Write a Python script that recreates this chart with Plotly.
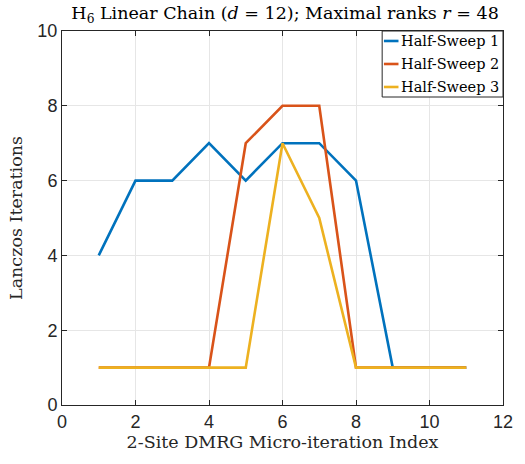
import plotly.graph_objects as go

x = [1, 2, 3, 4, 5, 6, 7, 8, 9, 10, 11]
sweep1 = [4, 6, 6, 7, 6, 7, 7, 6, 1, 1, 1]
sweep2 = [1, 1, 1, 1, 7, 8, 8, 1, 1, 1, 1]
sweep3 = [1, 1, 1, 1, 1, 7, 5, 1, 1, 1, 1]
names = ["Half-Sweep 1", "Half-Sweep 2", "Half-Sweep 3"]
colors = ["#0072BD", "#D95319", "#EDB120"]

serif = "DejaVu Serif"
sans = "Liberation Sans"

fig = go.Figure()
for ys, n, c in zip([sweep1, sweep2, sweep3], names, colors):
    fig.add_trace(go.Scatter(x=x, y=ys, mode="lines", name=n, showlegend=False,
                             line=dict(color=c, width=2.6)))

# custom legend (paper coordinates relative to plot area)
fig.add_shape(type="rect", xref="paper", yref="paper", x0=0.726, x1=1.0, y0=0.8235, y1=1.0,
              line=dict(color="#262626", width=1), fillcolor="white", layer="above")
row_y = [0.9733, 0.9118, 0.8503]
for n, c, yy in zip(names, colors, row_y):
    fig.add_shape(type="line", xref="paper", yref="paper", x0=0.730, x1=0.763, y0=yy, y1=yy,
                  line=dict(color=c, width=2.6), layer="above")
    fig.add_annotation(xref="paper", yref="paper", x=0.764, y=yy, text=n, showarrow=False,
                       xanchor="left", yanchor="middle",
                       font=dict(family=serif, size=14.5, color="black"))

axis_common = dict(showline=True, linecolor="#262626", linewidth=1, mirror="ticks",
                   ticks="inside", ticklen=5, tickcolor="#262626",
                   showgrid=True, gridcolor="#e6e6e6", gridwidth=1, zeroline=False,
                   tickfont=dict(family=sans, size=18, color="#262626"))

fig.update_layout(
    width=525, height=464,
    margin=dict(l=62, r=17, t=31, b=59),
    plot_bgcolor="white", paper_bgcolor="white",
    title=dict(text="H<sub>6</sub> Linear Chain (<i>d</i> = 12); Maximal ranks <i>r</i> = 48",
               x=0.543, xanchor="center", y=0.972, yanchor="middle",
               font=dict(family=serif, size=17.5, color="black")),
    xaxis=dict(range=[0, 12], tickvals=[0, 2, 4, 6, 8, 10, 12],
               title=dict(text="2-Site DMRG Micro-iteration Index", standoff=3,
                          font=dict(family=serif, size=17.5, color="#262626")),
               **axis_common),
    yaxis=dict(range=[0, 10], tickvals=[0, 2, 4, 6, 8, 10],
               title=dict(text="Lanczos Iterations", standoff=10,
                          font=dict(family=serif, size=17.5, color="#262626")),
               **axis_common),
)

fig.write_html("out.html")
